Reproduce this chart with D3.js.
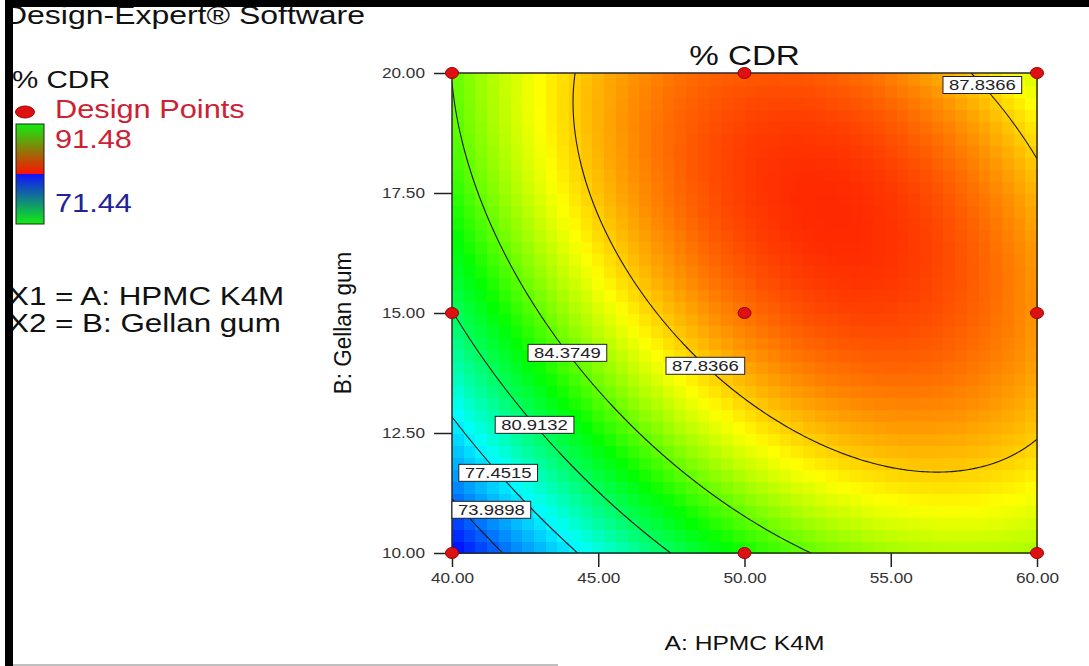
<!DOCTYPE html>
<html>
<head>
<meta charset="utf-8">
<script src="https://cdn.jsdelivr.net/npm/d3@7"></script>
<style>
  body { margin: 0; background: #fff; }
  svg { display: block; font-family: "Liberation Sans", Arial, sans-serif; }
</style>
</head>
<body>
<div id="chart"></div>
<script>
// Design factors and levels
const hpmcLevels = [40, 50, 60];    // A: HPMC K4M
const gellanLevels = [10, 15, 20];  // B: Gellan gum
const xTickValues = [40, 45, 50, 55, 60];
const yTickValues = [10, 12.5, 15, 17.5, 20];

// Quadratic model in coded factors
const modelTerms = ["Intercept", "A", "B", "AB", "A^2", "B^2"];
const modelCoefs = [89.45, 4.0, 3.45, -3.1, -4.6, -3.0];

// Response range shown in the legend
const cdrRange = [71.44, 91.48];

// Contour levels and where their labels sit (Gellan gum value, branch)
const contourLevels = [73.9898, 77.4515, 80.9132, 84.3749, 87.8366];
const labelLevels = [73.9898, 77.4515, 80.9132, 84.3749, 87.8366, 87.8366];
const labelGellan = [10.9, 11.67, 12.67, 14.17, 13.9, 19.75];
const labelBranch = [0, 0, 0, 0, 0, 1];

// Dimensions
const width = 1089;
const height = 666;
const SX = 1.23; // the original picture is stretched horizontally
const x0 = 452, x1 = 1037, y0 = 73, y1 = 553;

const svg = d3
  .select("#chart")
  .append("svg")
  .attr("width", width)
  .attr("height", height);

const x = d3.scaleLinear().domain(d3.extent(hpmcLevels)).range([x0, x1]);
const y = d3.scaleLinear().domain(d3.extent(gellanLevels)).range([y1, y0]);

// Model evaluation
const aMid = d3.mean(d3.extent(hpmcLevels)), aHalf = (d3.max(hpmcLevels) - d3.min(hpmcLevels)) / 2;
const bMid = d3.mean(d3.extent(gellanLevels)), bHalf = (d3.max(gellanLevels) - d3.min(gellanLevels)) / 2;
const cdr = (A, B) => {
  const a = (A - aMid) / aHalf;
  const b = (B - bMid) / bHalf;
  const [c0, cA, cB, cAB, cAA, cBB] = modelCoefs;
  return c0 + cA * a + cB * b + cAB * a * b + cAA * a * a + cBB * b * b;
};

// Colour scale blue -> cyan -> green -> yellow -> red
const color = d3
  .scaleLinear()
  .domain([cdrRange[0], 77.8, 82.8, 87.0, cdrRange[1]])
  .range(["#0000ff", "#00ffff", "#00ff00", "#ffff00", "#ff0000"])
  .clamp(true);

// Coloured cells
const nCols = 50, nRows = 40;
const dA = (x.domain()[1] - x.domain()[0]) / nCols;
const dB = (y.domain()[1] - y.domain()[0]) / nRows;
const cells = [];
for (let j = 0; j < nRows; j++) {
  for (let i = 0; i < nCols; i++) {
    const a0 = x.domain()[0] + i * dA;
    const b0 = y.domain()[0] + j * dB;
    cells.push({ a0, b0, v: cdr(a0 + dA / 2, b0 + dB / 2) });
  }
}
svg
  .append("g")
  .attr("shape-rendering", "crispEdges")
  .selectAll("rect")
  .data(cells)
  .join("rect")
  .attr("x", (d) => x(d.a0))
  .attr("y", (d) => y(d.b0 + dB))
  .attr("width", (d) => x(d.a0 + dA) - x(d.a0) + 0.6)
  .attr("height", (d) => y(d.b0) - y(d.b0 + dB) + 0.6)
  .attr("fill", (d) => color(d.v));

// Contour lines
svg
  .append("clipPath")
  .attr("id", "plot-clip")
  .append("rect")
  .attr("x", x0)
  .attr("y", y0)
  .attr("width", x1 - x0)
  .attr("height", y1 - y0);

const nx = 241, ny = 241;
const gridA = d3.scaleLinear().domain([0.5, nx - 0.5]).range(x.domain());
const gridB = d3.scaleLinear().domain([0.5, ny - 0.5]).range(y.domain());
const values = new Array(nx * ny);
for (let j = 0; j < ny; j++) {
  for (let i = 0; i < nx; i++) {
    values[j * nx + i] = cdr(gridA(i + 0.5), gridB(j + 0.5));
  }
}
const contours = d3.contours().size([nx, ny]).thresholds(contourLevels)(values);
const toScreen = d3.geoTransform({
  point: function (px, py) {
    this.stream.point(x(gridA(px)), y(gridB(py)));
  },
});
svg
  .append("g")
  .attr("clip-path", "url(#plot-clip)")
  .selectAll("path")
  .data(contours)
  .join("path")
  .attr("d", d3.geoPath(toScreen))
  .attr("fill", "none")
  .attr("stroke", "#1a1a1a")
  .attr("stroke-width", 1.1);

// Plot frame
svg
  .append("rect")
  .attr("x", x0)
  .attr("y", y0)
  .attr("width", x1 - x0)
  .attr("height", y1 - y0)
  .attr("fill", "none")
  .attr("stroke", "#2a2a2a")
  .attr("stroke-width", 1.5);

// Axes
const gY = svg
  .append("g")
  .attr("transform", `translate(${x0},0)`)
  .call(
    d3.axisLeft(y).tickValues(yTickValues).tickFormat(d3.format(".2f")).tickSize(18).tickPadding(9)
  );
gY.select(".domain").remove();
gY.attr("font-size", 14).attr("font-family", null).attr("color", "#222");
gY.selectAll(".tick line").attr("stroke-width", 1.5);
gY.selectAll("text")
  .attr("x", null)
  .attr("fill", "#333")
  .attr("transform", `translate(-27,0) scale(${SX},1)`);

const gX = svg
  .append("g")
  .attr("transform", `translate(0,${y1})`)
  .call(
    d3.axisBottom(x).tickValues(xTickValues).tickFormat(d3.format(".2f")).tickSize(14).tickPadding(6)
  );
gX.select(".domain").remove();
gX.attr("font-size", 14).attr("font-family", null).attr("color", "#222");
gX.selectAll(".tick line").attr("stroke-width", 1.5);
gX.selectAll("text").attr("fill", "#333").attr("transform", `scale(${SX},1)`);

// Helper for stretched text
const addText = (str, px, py, size, fill, anchor) =>
  svg
    .append("text")
    .attr("transform", `translate(${px},${py}) scale(${SX},1)`)
    .attr("font-size", size)
    .attr("fill", fill)
    .attr("text-anchor", anchor || "start")
    .text(str);

// Titles
addText("% CDR", (x0 + x1) / 2, 65, 27, "#111", "middle");
addText("A: HPMC K4M", (x0 + x1) / 2, 650, 20, "#111", "middle");
svg
  .append("text")
  .attr("transform", `translate(351,${(y0 + y1) / 2 + 10}) scale(1.05,1) rotate(-90)`)
  .attr("font-size", 22.5)
  .attr("fill", "#111")
  .attr("text-anchor", "middle")
  .text("B: Gellan gum");

// Contour labels
const findA = (level, B, branch) => {
  const roots = [];
  const step = 0.02;
  const [lo, hi] = x.domain();
  for (let A = lo; A < hi; A += step) {
    const f0 = cdr(A, B) - level;
    const f1 = cdr(A + step, B) - level;
    if (f0 * f1 <= 0 && f0 !== f1) roots.push(A + (step * f0) / (f0 - f1));
  }
  return roots[Math.min(branch, roots.length - 1)];
};

labelLevels.forEach((level, k) => {
  const B = labelGellan[k];
  const A = findA(level, B, labelBranch[k]);
  let cx = x(A);
  const cy = y(B);
  const g = svg.append("g");
  const box = g.append("rect");
  const t = g
    .append("text")
    .attr("font-size", 15)
    .attr("fill", "#222")
    .attr("text-anchor", "middle")
    .attr("dy", "0.36em")
    .text(level.toFixed(4));
  const w = t.node().getComputedTextLength() * SX + 12;
  cx = Math.max(x0 + w / 2, Math.min(x1 - w / 2, cx));
  t.attr("transform", `translate(${cx},${cy}) scale(${SX},1)`);
  box
    .attr("x", cx - w / 2)
    .attr("y", cy - 8.5)
    .attr("width", w)
    .attr("height", 17)
    .attr("fill", "#fff")
    .attr("stroke", "#222")
    .attr("stroke-width", 1);
});

// Design points
const designPoints = d3.cross(hpmcLevels, gellanLevels);
svg
  .append("g")
  .selectAll("ellipse")
  .data(designPoints)
  .join("ellipse")
  .attr("cx", (d) => x(d[0]))
  .attr("cy", (d) => y(d[1]))
  .attr("rx", 6.5)
  .attr("ry", 5.5)
  .attr("fill", "#dd1111")
  .attr("stroke", "#a00000")
  .attr("stroke-width", 1);

// Left legend
addText("Design-Expert® Software", 4, 24, 26, "#111");
addText("% CDR", 12, 88, 24, "#111");
svg
  .append("ellipse")
  .attr("cx", 25)
  .attr("cy", 112)
  .attr("rx", 9.5)
  .attr("ry", 6)
  .attr("fill", "#dd1111")
  .attr("stroke", "#a00000");
addText("Design Points", 55, 118, 25, "#cc2233");

const defs = svg.append("defs");
const gradTop = defs.append("linearGradient").attr("id", "grad-top").attr("x1", 0).attr("y1", 0).attr("x2", 0).attr("y2", 1);
gradTop.append("stop").attr("offset", "0%").attr("stop-color", "#11ee11");
gradTop.append("stop").attr("offset", "100%").attr("stop-color", "#ff1100");
const gradBot = defs.append("linearGradient").attr("id", "grad-bot").attr("x1", 0).attr("y1", 0).attr("x2", 0).attr("y2", 1);
gradBot.append("stop").attr("offset", "0%").attr("stop-color", "#1111ff");
gradBot.append("stop").attr("offset", "100%").attr("stop-color", "#11ee11");

svg.append("rect").attr("x", 16).attr("y", 124).attr("width", 28).attr("height", 50).attr("fill", "url(#grad-top)");
svg.append("rect").attr("x", 16).attr("y", 174).attr("width", 28).attr("height", 50).attr("fill", "url(#grad-bot)");
svg
  .append("rect")
  .attr("x", 16)
  .attr("y", 124)
  .attr("width", 28)
  .attr("height", 100)
  .attr("fill", "none")
  .attr("stroke", "#222")
  .attr("stroke-width", 1);
addText(cdrRange[1].toFixed(2), 55, 148, 25, "#cc2233");
addText(cdrRange[0].toFixed(2), 55, 212, 25, "#222299");

addText("X1 = A: HPMC K4M", 8, 305, 25.5, "#111");
addText("X2 = B: Gellan gum", 8, 332, 25.5, "#111");

// Black borders of the screenshot
svg.append("rect").attr("x", 5).attr("y", 0).attr("width", width - 5).attr("height", 7).attr("fill", "#000");
svg.append("rect").attr("x", 5).attr("y", 0).attr("width", 8).attr("height", height).attr("fill", "#000");
svg
  .append("line")
  .attr("x1", 13)
  .attr("x2", 558)
  .attr("y1", 665)
  .attr("y2", 665)
  .attr("stroke", "#aaa")
  .attr("stroke-width", 1.5);
</script>
</body>
</html>
